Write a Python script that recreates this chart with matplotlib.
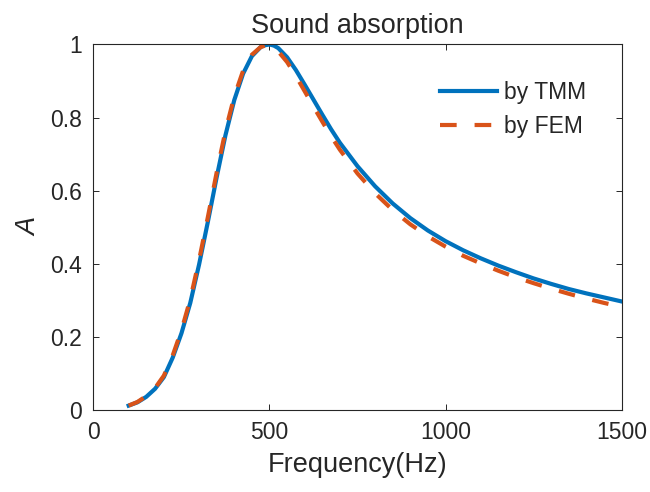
import matplotlib
matplotlib.use('Agg')
import matplotlib.pyplot as plt

# data
freq = [100, 125, 150, 175, 200, 225, 250, 275, 300, 325, 350, 375, 400, 425,
        450, 475, 487.5, 500, 512.5, 525, 550, 575, 600, 625, 650, 675, 700,
        750, 800, 850, 900, 950, 1000, 1050, 1100, 1150, 1200, 1250, 1300,
        1350, 1400, 1450, 1500]

a_tmm = [0.012, 0.021, 0.036, 0.058, 0.090, 0.143, 0.210, 0.293, 0.398, 0.515,
         0.637, 0.752, 0.848, 0.920, 0.968, 0.993, 0.998, 1.000, 0.997, 0.990,
         0.965, 0.930, 0.890, 0.849, 0.808, 0.768, 0.731,
         0.667, 0.612, 0.565, 0.525, 0.491, 0.462, 0.437, 0.415, 0.395, 0.377,
         0.360, 0.345, 0.331, 0.319, 0.308, 0.297]

a_fem = [0.012, 0.022, 0.038, 0.060, 0.094, 0.149, 0.218, 0.303, 0.410, 0.528,
         0.650, 0.764, 0.858, 0.928, 0.972, 0.993, 0.997, 0.997, 0.991, 0.981,
         0.952, 0.914, 0.872, 0.830, 0.789, 0.749, 0.712,
         0.647, 0.593, 0.547, 0.508, 0.475, 0.447, 0.422, 0.401, 0.381, 0.363,
         0.347, 0.332, 0.318, 0.305, 0.293, 0.282]

labels = ['by TMM', 'by FEM']

plt.rcParams['font.family'] = ['Liberation Sans', 'DejaVu Sans']
txt = '#262626'

fig = plt.figure(figsize=(6.5, 4.92), dpi=100)
ax = fig.add_axes([0.1438, 0.1667, 0.8124, 0.7429])

ax.plot(freq, a_tmm, color='#0072BD', lw=3, label=labels[0])
ax.plot(freq, a_fem, color='#D95319', lw=3, dashes=(4.0, 4.3), label=labels[1])

ax.set_xlim(0, 1500)
ax.set_ylim(0, 1)
ax.set_xticks([0, 500, 1000, 1500])
ax.set_yticks([0, 0.2, 0.4, 0.6, 0.8, 1])
ax.set_yticklabels(['0', '0.2', '0.4', '0.6', '0.8', '1'])

ax.tick_params(direction='in', length=4.5, width=0.7, colors=txt,
               labelsize=16.5, top=True, right=True, pad=8)
for s in ax.spines.values():
    s.set_color(txt)
    s.set_linewidth(0.8)

ax.set_title('Sound absorption', fontsize=19.5, color=txt, pad=8)
ax.set_xlabel('Frequency(Hz)', fontsize=19.5, color=txt, labelpad=6)
ax.set_ylabel('A', fontsize=19.5, color=txt, style='italic', labelpad=6)

ax.legend(loc='upper left', bbox_to_anchor=(0.656, 0.899), frameon=False,
          fontsize=16.5, handlelength=2.5, handletextpad=0.3,
          labelspacing=0.45, borderpad=0, borderaxespad=0, labelcolor=txt)

fig.savefig('out.png', dpi=100)
